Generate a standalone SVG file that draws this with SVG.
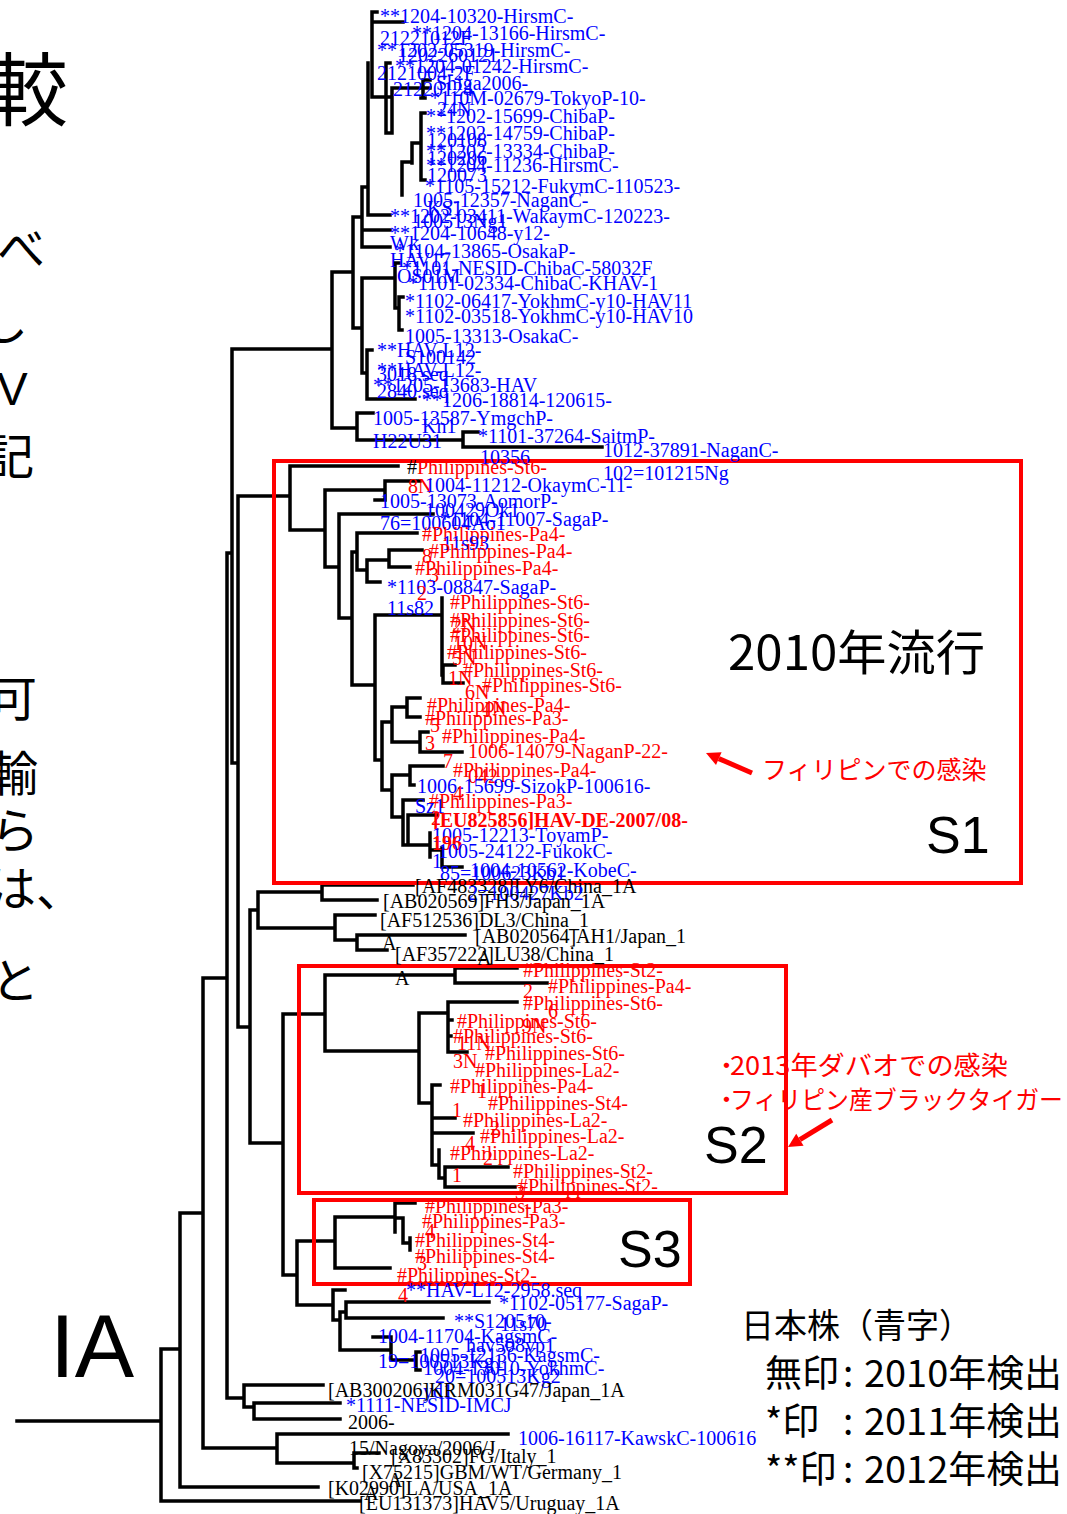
<svg xmlns="http://www.w3.org/2000/svg" width="1067" height="1514" viewBox="0 0 1067 1514">
<style>
text{font-family:"Liberation Serif","Times New Roman",serif;font-size:20px}
.b{fill:#0000ff}.r{fill:#ff0000}.k{fill:#000}
.bold{font-weight:bold}
.cjk{font-family:"Noto Sans CJK JP","Noto Sans",sans-serif}
.sans{font-family:"Liberation Sans",Arial,sans-serif}
.tree{fill:none;stroke:#000;stroke-width:3.5;stroke-linecap:square}
.box{fill:none;stroke:#ff0000;stroke-width:4}
</style>
<rect width="1067" height="1514" fill="#fff"/>

<g id="connectors">
<path class="tree" d="
M17 1421 H161 M161 1349 V1501 M161 1349 H180 M161 1501 H360
M180 1213 V1487 M180 1487 H318 M180 1213 H203
M203 978 V1448 M203 1448 H277 M277 1434 V1463 M277 1434 H508 M277 1463 H354 M354 1453 V1468 M354 1453 H379 M354 1468 H357
M203 978 H227 M227 553 V1398 M227 1398 H244 M244 1385 V1407 M244 1385 H323 M244 1407 H254 M254 1403 V1419 M254 1403 H340 M254 1419 H340
M227 553 H232 M232 349 V763 M232 349 H332 M232 763 H238
M238 496 V1027 M238 496 H290 M238 1027 H250
M250 910 V1143 M250 910 H258 M258 892 V928 M258 892 H322 M322 885 V900 M322 885 H413 M322 900 H377
M258 928 H335 M335 915 V940 M335 915 H375 M335 940 H357 M357 935 V950 M357 935 H465 M357 950 H387
M250 1143 H283 M283 1014 V1275 M283 1014 H325
M325 975 V1051 M325 975 H455 M455 968 V983 M455 968 H517 M455 983 H547
M325 1051 H419 M419 1013 V1103 M419 1013 H448 M448 1002 V1052 M448 1002 H517 M448 1020 H452 M448 1036 H451 M448 1052 H467
M419 1103 H432 M432 1085 V1165 M432 1085 H440 M432 1118 H455 M432 1133 H473 M432 1165 H439 M439 1150 V1178 M439 1178 H445 M445 1167 V1187 M445 1167 H508 M445 1187 H515
M283 1275 H297 M297 1241 V1305 M297 1241 H335
M335 1217 V1268 M335 1268 H390 M335 1217 H395 M395 1203 V1232 M395 1203 H415 M395 1218 H403 M403 1218 V1243 M403 1243 H410 M410 1238 V1250
M297 1305 H333 M333 1290 V1320 M333 1290 H345 M333 1320 H340 M340 1312 V1350 M340 1312 H346 M346 1302 V1318 M346 1302 H489 M346 1318 H443
M340 1350 H391 M391 1337 V1360 M373 1337 H391 M391 1360 H416 M416 1352 V1370 M416 1352 H420 M416 1370 H420
M332 272 V428 M332 272 H353 M332 428 H357 M357 413 V440 M357 413 H373 M357 440 H463 M463 432 V447 M463 432 H478 M463 447 H602
M353 217 V328 M353 217 H362 M353 328 H362 M362 278 V373 M362 278 H395 M395 263 V308 M395 263 H399 M395 308 H399 M399 297 V330 M399 297 H403 M399 330 H402
M362 373 H367 M367 350 V399 M367 350 H372 M367 399 H415
M362 187 V247 M362 187 H368 M362 230 H390 M362 247 H390
M368 63 V215 M368 215 H390
M372 12 V97 M372 12 H377 M372 22 H403 M372 97 H392
M386 63 V133 M386 63 H390 M386 133 H392 M392 88 V133 M392 88 H430
M423 80 V98 M423 80 H430 M421 98 H425
M421 113 V180 M421 113 H425 M421 180 H425 M412 143 V163 M412 143 H421 M402 162 V195 M402 162 H412
M290 466 V530 M290 466 H398 M290 530 H325
M325 490 V567 M325 490 H385 M385 481 V500 M385 481 H420 M375 500 H385 M325 567 H339
M339 514 V618 M339 514 H433 M339 618 H352
M352 552 V685 M352 552 H357 M357 533 V570 M357 533 H417 M357 570 H367 M367 560 V582 M367 560 H389 M389 550 V567 M389 550 H422 M389 567 H410 M367 582 H380
M352 685 H375 M375 615 V760 M375 615 H442 M442 598 V675 M443 665 V683 M443 665 H455 M443 683 H463
M375 760 H382 M382 722 V790 M382 722 H392 M392 707 V742 M392 707 H407 M407 698 V717 M407 698 H420 M407 717 H420
M392 742 H420 M420 732 V752 M420 732 H428 M420 752 H462
M382 790 H392 M392 775 V817 M392 775 H410 M410 766 V785 M410 766 H443 M410 785 H414
M392 817 H403 M403 800 V845 M403 800 H423 M403 845 H408 M408 815 V845 M408 815 H437 M408 845 H430 M430 833 V857 M430 850 H442 M442 848 V867 M442 867 H462
"/>
<path d="M752 773 L718.8 758.6" stroke="#ff0000" stroke-width="5" fill="none"/>
<polygon points="706,753 721.6,752.2 716,765" fill="#ff0000"/>
<path d="M832 1120 L799.9 1139.7" stroke="#ff0000" stroke-width="5" fill="none"/>
<polygon points="788,1147 803.6,1145.7 796.2,1133.7" fill="#ff0000"/>
</g>

<g id="box-S1"><rect class="box" x="274" y="461" width="747" height="422"/></g>
<g id="box-S2"><rect class="box" x="299" y="966" width="487" height="227"/></g>
<g id="box-S3"><rect class="box" x="314" y="1200" width="376" height="84"/></g>

<g id="japan-upper">
<text class="b" x="380" y="23">**1204-10320-HirsmC-</text>
<text class="b" x="412" y="40">**1204-13166-HirsmC-</text>
<text class="b" x="380" y="45">21221012F</text>
<text class="b" x="377" y="57">**1202-05319-HirsmC-</text>
<text class="b" x="398" y="62">1202260121</text>
<text class="b" x="395" y="73">**1204-01242-HirsmC-</text>
<text class="b" x="377" y="80">2121004-2F</text>
<text class="b" x="436" y="90">Shiga2006-</text>
<text class="b" x="393" y="96">21220124</text>
<text class="b" x="430" y="105">*110M-02679-TokyoP-10-</text>
<text class="b" x="437" y="116">24N</text>
<text class="b" x="426" y="123">**1202-15699-ChibaP-</text>
<text class="b" x="426" y="140">**1202-14759-ChibaP-</text>
<text class="b" x="427" y="147">120108</text>
<text class="b" x="426" y="158">**1202-13334-ChibaP-</text>
<text class="b" x="427" y="165">120206</text>
<text class="b" x="426" y="172">**1204-11236-HirsmC-</text>
<text class="b" x="427" y="182">120073</text>
<text class="b" x="425" y="193">*1105-15212-FukymC-110523-</text>
<text class="b" x="413" y="207">1005-12357-NaganC-</text>
<text class="b" x="427" y="215">KS1</text>
<text class="b" x="390" y="223">**1202-03411-WakaymC-120223-</text>
<text class="b" x="413" y="228">100513Ng1</text>
<text class="b" x="390" y="240">**1204-10648-y12-</text>
<text class="b" x="390" y="250">Wk</text>
<text class="b" x="395" y="258">*1104-13865-OsakaP-</text>
<text class="b" x="390" y="267">HAV17</text>
<text class="b" x="402" y="275">*1101-NESID-ChibaC-58032F</text>
<text class="b" x="397" y="283">OS01M</text>
<text class="b" x="408" y="290">*1101-02334-ChibaC-KHAV-1</text>
<text class="b" x="405" y="308">*1102-06417-YokhmC-y10-HAV11</text>
<text class="b" x="405" y="323">*1102-03518-YokhmC-y10-HAV10</text>
<text class="b" x="405" y="343">1005-13313-OsakaC-</text>
<text class="b" x="377" y="357">**HAV-L12-</text>
<text class="b" x="405" y="364">S100142</text>
<text class="b" x="377" y="377">**HAV-L12-</text>
<text class="b" x="377" y="381">3018.seq</text>
<text class="b" x="373" y="392">**1205-13683-HAV</text>
<text class="b" x="377" y="398">2840.seq</text>
<text class="b" x="422" y="407">**1206-18814-120615-</text>
<text class="b" x="373" y="425">1005-13587-YmgchP-</text>
<text class="b" x="422" y="433">Kn1</text>
<text class="b" x="373" y="448">H22U31</text>
<text class="b" x="478" y="443">*1101-37264-SaitmP-</text>
<text class="b" x="480" y="464">10356</text>
<text class="b" x="603" y="457">1012-37891-NaganC-</text>
<text class="b" x="603" y="480">102=101215Ng</text>
</g>

<g id="clade-S1">
<text x="407" y="474"><tspan class="k">#</tspan><tspan class="r">Philippines-St6-</tspan></text>
<text class="r" x="408" y="493">8N</text>
<text class="b" x="425" y="492">1004-11212-OkaymC-11-</text>
<text class="b" x="380" y="508">1005-13073-AomorP-</text>
<text class="b" x="425" y="517">100429Ok1</text>
<text class="b" x="440" y="526">*1104-11007-SagaP-</text>
<text class="b" x="380" y="530">76=100604Ao1</text>
<text class="r" x="422" y="541">#Philippines-Pa4-</text>
<text class="b" x="442" y="550">11s93</text>
<text class="r" x="429" y="558">#Philippines-Pa4-</text>
<text class="r" x="422" y="563">8</text>
<text class="r" x="415" y="575">#Philippines-Pa4-</text>
<text class="r" x="429" y="582">3</text>
<text class="b" x="387" y="594">*1103-08847-SagaP-</text>
<text class="r" x="417" y="600">2</text>
<text class="b" x="387" y="615">11s82</text>
<text class="r" x="450" y="609">#Philippines-St6-</text>
<text class="r" x="450" y="627">#Philippines-St6-</text>
<text class="r" x="452" y="632">2N</text>
<text class="r" x="450" y="642">#Philippines-St6-</text>
<text class="r" x="453" y="650">10N</text>
<text class="r" x="447" y="659">#Philippines-St6-</text>
<text class="r" x="452" y="665">5N</text>
<text class="r" x="463" y="677">#Philippines-St6-</text>
<text class="r" x="448" y="685">1N</text>
<text class="r" x="482" y="692">#Philippines-St6-</text>
<text class="r" x="465" y="699">6N</text>
<text class="r" x="427" y="712">#Philippines-Pa4-</text>
<text class="r" x="482" y="715">4N</text>
<text class="r" x="425" y="725">#Philippines-Pa3-</text>
<text class="r" x="430" y="732">5</text>
<text class="r" x="442" y="743">#Philippines-Pa4-</text>
<text class="r" x="425" y="750">3</text>
<text class="r" x="468" y="758">1006-14079-NaganP-22-</text>
<text class="r" x="443" y="768">7</text>
<text class="r" x="453" y="777">#Philippines-Pa4-</text>
<text class="r" x="468" y="783">042</text>
<text class="b" x="417" y="793">1006-15699-SizokP-100616-</text>
<text class="r" x="453" y="800">4</text>
<text class="r" x="429" y="808">#Philippines-Pa3-</text>
<text class="b" x="415" y="813">Sz1</text>
<text class="r" x="431" y="825">2</text>
<text class="r bold" x="433" y="827">[EU825856]HAV-DE-2007/08-</text>
<text class="b" x="432" y="842">1005-12213-ToyamP-</text>
<text class="r bold" x="432" y="850">196</text>
<text class="b" x="438" y="858">1005-24122-FukokC-</text>
<text class="b" x="432" y="868">1</text>
<text class="b" x="470" y="877">1004-10562-KobeC-</text>
<text class="b" x="440" y="880">85=100623Kb1</text>
</g>

<g id="reference-strains">
<text class="k" x="415" y="893">[AF483328]LY6/China_1A</text>
<text class="b" x="468" y="900">2=100427Kb2</text>
<text class="k" x="383" y="908">[AB020569]FH3/Japan_1A</text>
<text class="k" x="380" y="927">[AF512536]DL3/China_1</text>
<text class="k" x="475" y="943">[AB020564]AH1/Japan_1</text>
<text class="k" x="382" y="950">A</text>
<text class="k" x="395" y="961">[AF357222]LU38/China_1</text>
<text class="k" x="477" y="965">A</text>
<text class="k" x="395" y="985">A</text>
</g>

<g id="clade-S2">
<text class="r" x="523" y="977">#Philippines-St2-</text>
<text class="r" x="548" y="993">#Philippines-Pa4-</text>
<text class="r" x="523" y="998">2</text>
<text class="r" x="523" y="1010">#Philippines-St6-</text>
<text class="r" x="548" y="1018">6</text>
<text class="r" x="457" y="1028">#Philippines-St6-</text>
<text class="r" x="522" y="1033">9N</text>
<text class="r" x="453" y="1043">#Philippines-St6-</text>
<text class="r" x="457" y="1050">11N</text>
<text class="r" x="485" y="1060">#Philippines-St6-</text>
<text class="r" x="453" y="1068">3N</text>
<text class="r" x="475" y="1077">#Philippines-La2-</text>
<text class="r" x="450" y="1093">#Philippines-Pa4-</text>
<text class="r" x="477" y="1098">1</text>
<text class="r" x="488" y="1110">#Philippines-St4-</text>
<text class="r" x="452" y="1117">1</text>
<text class="r" x="463" y="1127">#Philippines-La2-</text>
<text class="r" x="490" y="1135">2</text>
<text class="r" x="480" y="1143">#Philippines-La2-</text>
<text class="r" x="465" y="1150">4</text>
<text class="r" x="450" y="1160">#Philippines-La2-</text>
<text class="r" x="483" y="1165">2</text>
<text class="r" x="513" y="1178">#Philippines-St2-</text>
<text class="r" x="452" y="1182">1</text>
<text class="r" x="518" y="1193">#Philippines-St2-</text>
<text class="r" x="515" y="1199">3</text>
</g>

<g id="clade-S3">
<text class="r" x="425" y="1213">#Philippines-Pa3-</text>
<text class="r" x="522" y="1218">1</text>
<text class="r" x="422" y="1228">#Philippines-Pa3-</text>
<text class="r" x="425" y="1238">4</text>
<text class="r" x="415" y="1247">#Philippines-St4-</text>
<text class="r" x="415" y="1263">#Philippines-St4-</text>
<text class="r" x="417" y="1270">3</text>
<text class="r" x="397" y="1282">#Philippines-St2-</text>
</g>

<g id="japan-lower">
<text class="b" x="406" y="1297">**HAV-L12-2958.seq</text>
<text class="r" x="398" y="1302">4</text>
<text class="b" x="499" y="1310">*1102-05177-SagaP-</text>
<text class="b" x="454" y="1328">**S120510-</text>
<text class="b" x="500" y="1331">11s70</text>
<text class="b" x="378" y="1343">1004-11704-KagsmC-</text>
<text class="b" x="466" y="1352">hav508vp1</text>
<text class="b" x="420" y="1362">1005-12136-KagsmC-</text>
<text class="b" x="378" y="1368">19=100513Kg1</text>
<text class="b" x="423" y="1375">1004-13010-YokhmC-</text>
<text class="b" x="435" y="1383">20=100513Kg2</text>
<text class="b" x="423" y="1398">yd1</text>
<text class="k" x="328" y="1397">[AB300206]KRM031G47/Japan_1A</text>
<text class="b" x="346" y="1412">*1111-NESID-IMCJ</text>
<text class="k" x="348" y="1429">2006-</text>
<text class="b" x="518" y="1445">1006-16117-KawskC-100616</text>
<text class="k" x="349" y="1455">15/Nagoya/2006/J</text>
<text class="k" x="391" y="1463">[X83302]FG/Italy_1</text>
<text class="k" x="362" y="1479">[X75215]GBM/WT/Germany_1</text>
<text class="k" x="388" y="1487">A</text>
<text class="k" x="328" y="1495">[K02990]LA/USA_1A</text>
<text class="k" x="364" y="1500">A</text>
<text class="k" x="359" y="1510">[EU131373]HAV5/Uruguay_1A</text>
</g>

<g id="annotations">
<text class="cjk k" x="728" y="670" style="font-size:48px" textLength="257" lengthAdjust="spacingAndGlyphs">2010年流行</text>
<text class="cjk r" x="762" y="779" style="font-size:25px">フィリピンでの感染</text>
<text class="sans k" x="926" y="853" style="font-size:52px">S1</text>
<text class="cjk r" x="714" y="1075" style="font-size:25px">・</text>
<text class="cjk r" x="730" y="1075" style="font-size:26px" textLength="278" lengthAdjust="spacingAndGlyphs">2013年ダバオでの感染</text>
<text class="cjk r" x="714" y="1109" style="font-size:25px">・</text>
<text class="cjk r" x="730" y="1109" style="font-size:25px" textLength="333" lengthAdjust="spacingAndGlyphs">フィリピン産ブラックタイガー</text>
<text class="sans k" x="704" y="1163" style="font-size:52px">S2</text>
<text class="sans k" x="618" y="1267" style="font-size:52px">S3</text>
<text class="sans k" x="50" y="1377" style="font-size:89px">IA</text>
</g>

<g id="legend">
<text class="cjk k" x="741" y="1338" style="font-size:34px" textLength="231" lengthAdjust="spacingAndGlyphs">日本株（青字）</text>
<text class="cjk k" x="765" y="1387" style="font-size:37px">無印</text>
<text class="cjk k" x="843" y="1387" style="font-size:37px">:</text>
<text class="cjk k" x="864" y="1387" style="font-size:37px" textLength="198" lengthAdjust="spacingAndGlyphs">2010年検出</text>
<text class="cjk k" x="765" y="1435" style="font-size:37px">*印</text>
<text class="cjk k" x="843" y="1435" style="font-size:37px">:</text>
<text class="cjk k" x="864" y="1435" style="font-size:37px" textLength="198" lengthAdjust="spacingAndGlyphs">2011年検出</text>
<text class="cjk k" x="765" y="1483" style="font-size:37px">**印</text>
<text class="cjk k" x="843" y="1483" style="font-size:37px">:</text>
<text class="cjk k" x="864" y="1483" style="font-size:37px" textLength="198" lengthAdjust="spacingAndGlyphs">2012年検出</text>
</g>

<g id="left-margin-text">
<text class="cjk k" x="-12" y="119" style="font-size:80px">較</text>
<text class="cjk k" x="-3" y="266" style="font-size:48px">べ</text>
<text class="cjk k" x="-20" y="340" style="font-size:48px">し</text>
<text class="sans k" x="-3" y="405" style="font-size:46px">V</text>
<text class="cjk k" x="-14" y="474" style="font-size:48px">記</text>
<text class="cjk k" x="-11" y="716" style="font-size:48px">可</text>
<text class="cjk k" x="-10" y="791" style="font-size:48px">輸</text>
<text class="cjk k" x="-9" y="848" style="font-size:48px">ら</text>
<text class="cjk k" x="-12" y="906" style="font-size:48px">は、</text>
<text class="cjk k" x="-9" y="998" style="font-size:48px">と</text>
</g>
</svg>
